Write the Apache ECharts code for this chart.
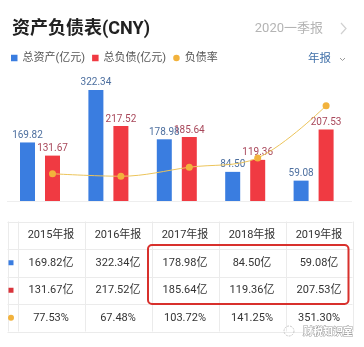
<!DOCTYPE html>
<html><head><meta charset="utf-8">
<script src="https://cdn.jsdelivr.net/npm/echarts@6/dist/echarts.min.js"></script>
<style>html,body{margin:0;padding:0;background:#fff;}#c{width:364px;height:347px;}</style>
</head><body><div id="c"></div>
<script>
const categories = ['2015年报','2016年报','2017年报','2018年报','2019年报'];
const totalAssets = [169.82, 322.34, 178.98, 84.50, 59.08];
const totalLiabilities = [131.67, 217.52, 185.64, 119.36, 207.53];
const debtRatio = [77.53, 67.48, 103.72, 141.25, 351.30];
const seriesNames = ['总资产(亿元)', '总负债(亿元)', '负债率'];

const FONT = 'Roboto, "Noto Sans CJK SC", sans-serif';
const BLUE = '#3a7de0', RED = '#f03a42', ORANGE = '#f2b23c';

const chart = echarts.init(document.getElementById('c'), null, {renderer:'canvas'});

// table layout
const tLeft = 7.5, iconCol = 17.5, colW = 67, rowTop = 221.5, rowH = 27.5;
const graphics = [];
const lineColor = '#ebebeb';
for (let r = 0; r <= 4; r++) {
  const y = rowTop + r * rowH;
  graphics.push({type:'line', shape:{x1:tLeft, y1:Math.round(y)+0.5, x2:iconCol + colW*5, y2:Math.round(y)+0.5}, style:{stroke:lineColor, lineWidth:1}});
}
const vxs = [tLeft, iconCol];
for (let c = 1; c <= 5; c++) vxs.push(iconCol + colW * c);
vxs.forEach(x => graphics.push({type:'line', shape:{x1:Math.round(x)+0.5, y1:rowTop, x2:Math.round(x)+0.5, y2:rowTop + rowH*4}, style:{stroke:lineColor, lineWidth:1}}));
// baseline
graphics.push({type:'line', shape:{x1:7, y1:201.5, x2:352, y2:201.5}, style:{stroke:'#eeeeee', lineWidth:1}});

const rows = [
  categories,
  totalAssets.map(v => v.toFixed(2) + '亿'),
  totalLiabilities.map(v => v.toFixed(2) + '亿'),
  debtRatio.map(v => v.toFixed(2) + '%')
];
rows.forEach((row, r) => {
  row.forEach((txt, c) => {
    graphics.push({type:'text', x: iconCol + colW * (c + 0.5), y: rowTop + rowH * (r + 0.5),
      style:{text: txt, fontSize: 11, fontFamily: FONT, fill:'#333', align:'center', verticalAlign:'middle'}});
  });
});
// row icons
graphics.push({type:'rect', shape:{x:8.5, y: rowTop + rowH*1.5 - 2.5, width:5, height:5}, style:{fill:BLUE}});
graphics.push({type:'rect', shape:{x:8.5, y: rowTop + rowH*2.5 - 2.5, width:5, height:5}, style:{fill:'#d9343b'}});
graphics.push({type:'circle', shape:{cx:11, cy: rowTop + rowH*3.5, r:3}, style:{fill:ORANGE}});
// highlight rectangle
graphics.push({type:'rect', shape:{x:148, y:245, width:200.5, height:59, r:4}, style:{fill:'none', stroke:'#d8302c', lineWidth:2}});

// header texts
graphics.push({type:'text', x:12, y:29, style:{text:'资产负债表(CNY)', fontSize:18, fontWeight:'bold', fontFamily:FONT, fill:'#222', align:'left', verticalAlign:'middle'}});
graphics.push({type:'text', x:323, y:28.5, style:{text:'2020一季报', fontSize:13, fontFamily:FONT, fill:'#b4b4b4', align:'right', verticalAlign:'middle'}});
graphics.push({type:'polyline', shape:{points:[[341,23],[346,28.5],[341,34]]}, style:{stroke:'#d0d0d0', lineWidth:1.2, fill:'none'}});
graphics.push({type:'text', x:331, y:59.5, style:{text:'年报', fontSize:11.5, fontFamily:FONT, fill:'#3f6fa8', align:'right', verticalAlign:'middle'}});
graphics.push({type:'polyline', shape:{points:[[340,58],[342.5,60.5],[345,58]]}, style:{stroke:'#999', lineWidth:1, fill:'none'}});
// watermark
graphics.push({type:'circle', shape:{cx:289, cy:331, r:5}, style:{fill:'none', stroke:'#c8c8c8', lineWidth:1, lineDash:[2,1]}});
graphics.push({type:'text', x:303, y:332, style:{text:'财税知识室', fontSize:10, fontWeight:'bold', fontFamily:FONT, fill:'#fff', stroke:'#a0a0a0', lineWidth:1, align:'left', verticalAlign:'middle'}});

chart.setOption({
  animation:false,
  textStyle:{fontFamily:FONT},
  legend:{
    left:11, top:52.5, itemWidth:6.5, itemHeight:6.5, itemGap:7, padding:0,
    textStyle:{fontSize:11, color:'#555', fontFamily:FONT},
    data:[{name:seriesNames[0], icon:'rect'}, {name:seriesNames[1], icon:'rect'}, {name:seriesNames[2], icon:'circle'}]
  },
  grid:{left:18.3, right:3.7, top:70, bottom:146},
  xAxis:{type:'category', data:categories, show:false},
  yAxis:[
    {type:'value', min:0, max:380, show:false},
    {type:'value', min:-32.2, max:495.2, show:false}
  ],
  graphic: graphics,
  series:[
    {name:seriesNames[0], type:'bar', data: totalAssets, barWidth:15, barGap:'66.7%', itemStyle:{color:BLUE},
      label:{show:true, position:'top', distance:2, fontSize:10, color:'#4d6f9f', formatter: p => p.value.toFixed(2)}},
    {name:seriesNames[1], type:'bar', data: totalLiabilities, barWidth:15, itemStyle:{color:RED},
      label:{show:true, position:'top', distance:2, fontSize:10, color:'#a8475a', formatter: p => p.value.toFixed(2)}},
    {name:'_gap', type:'bar', data: categories.map(() => '-'), barWidth:15},
    {name:seriesNames[2], type:'line', yAxisIndex:1, data: debtRatio, smooth:0.35, symbol:'circle', symbolSize:7,
      lineStyle:{color:'#ecc45a', width:1}, itemStyle:{color:ORANGE}, z:5}
  ]
});
</script></body></html>
